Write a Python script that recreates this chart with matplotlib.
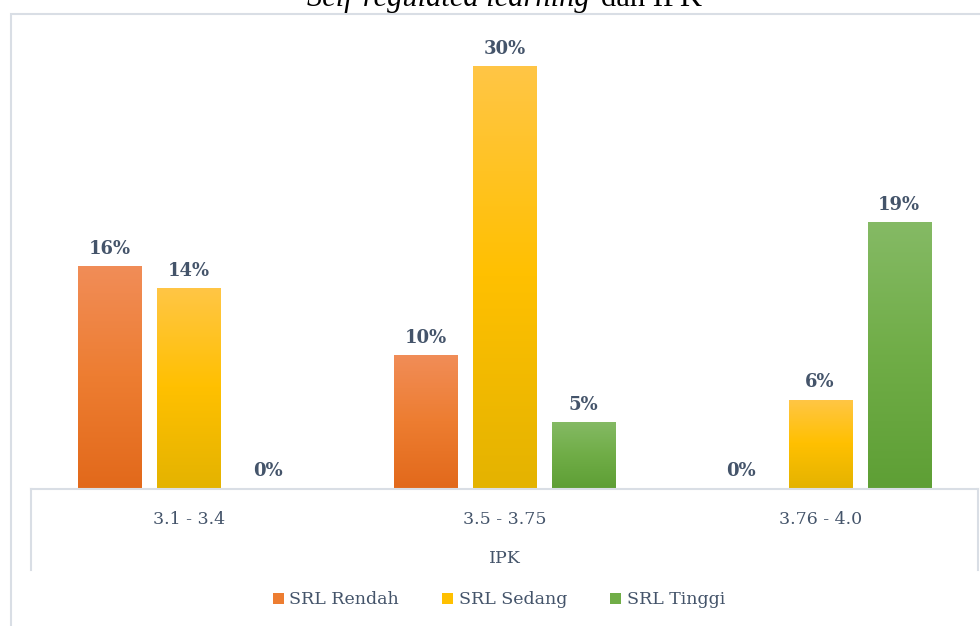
import numpy as np
import matplotlib.pyplot as plt
from matplotlib.colors import LinearSegmentedColormap
from matplotlib.patches import Patch, Rectangle
from matplotlib.lines import Line2D

categories = ["3.1 - 3.4", "3.5 - 3.75", "3.76 - 4.0"]
series_names = ["SRL Rendah", "SRL Sedang", "SRL Tinggi"]
srl_rendah = [15.87, 9.52, 0.0]
srl_sedang = [14.29, 30.16, 6.35]
srl_tinggi = [0.0, 4.76, 19.05]

# bottom, middle, top colour of each gradient fill
grad_colors = [
    ["#E2691B", "#ED7D31", "#F18D58"],
    ["#E4B300", "#FFC000", "#FFC646"],
    ["#5E9F35", "#70AD47", "#85BA65"],
]
text_color = "#44546A"
line_color = "#D9DEE5"

W, H = 980, 626
base_y = 488.5   # pixel row of the category axis
ppu = 14.0       # pixels per percent
ymax = 33.5

fig = plt.figure(figsize=(W / 100, H / 100), dpi=100)
ax = fig.add_axes([31 / W, (H - base_y) / H, 947 / W, ymax * ppu / H])

x = np.arange(len(categories))
width = 0.2
offsets = [-0.25, 0.0, 0.25]
grad = np.linspace(0, 1, 256).reshape(-1, 1)

for vals, off, cols, name in zip([srl_rendah, srl_sedang, srl_tinggi],
                                 offsets, grad_colors, series_names):
    cmap = LinearSegmentedColormap.from_list(name, cols)
    bars = ax.bar(x + off, vals, width, color=cols[1], zorder=2)
    for bar, v in zip(bars, vals):
        if v > 0:
            x0 = bar.get_x()
            im = ax.imshow(grad, extent=[x0, x0 + width, 0, v], origin="lower",
                           cmap=cmap, aspect="auto", zorder=3)
            im.set_clip_path(bar)
        ax.annotate(f"{v:.0f}%", (bar.get_x() + width / 2, v),
                    xytext=(0, 8.8), textcoords="offset points",
                    ha="center", va="baseline", fontsize=13,
                    fontweight="bold", family="DejaVu Serif", color=text_color)

ax.set_xlim(-0.5, len(categories) - 0.5)
ax.set_ylim(0, ymax)
ax.set_xticks([])
ax.set_yticks([])
for s in ["left", "right", "top"]:
    ax.spines[s].set_visible(False)
ax.spines["bottom"].set_color(line_color)
ax.spines["bottom"].set_linewidth(1.5)
ax.spines["bottom"].set_zorder(4)


def ay(py):
    # pixel row -> axes fraction
    return (base_y - py) / (ymax * ppu)


for xe in [0, 1]:
    ax.add_line(Line2D([xe, xe], [0, ay(570)], transform=ax.transAxes,
                       color=line_color, lw=1.5, clip_on=False))

for xi, cat in zip(x, categories):
    ax.text(xi, ay(524), cat, transform=ax.get_xaxis_transform(),
            ha="center", va="baseline", fontsize=12.5, family="DejaVu Serif",
            color=text_color)
ax.text(0.5, ay(563), "IPK", transform=ax.transAxes, ha="center",
        va="baseline", fontsize=12.5, family="DejaVu Serif", color=text_color)

# outer chart frame (right and bottom edges fall outside the picture)
fig.patches.append(Rectangle((10.5 / W, -0.1), 1.2, (H - 14) / H + 0.1,
                             transform=fig.transFigure, fill=False,
                             edgecolor=line_color, lw=1.5))

handles = [Patch(facecolor=c[1]) for c in grad_colors]
fig.legend(handles, series_names, loc="center", bbox_to_anchor=(499 / W, 1 - 600 / H),
           ncol=3, frameon=False, handlelength=0.63, handleheight=0.63,
           handletextpad=0.3, columnspacing=2.5,
           prop={"family": "DejaVu Serif", "size": 12.5}, labelcolor=text_color)

# title sits above the frame and is cut by the top edge, as in the original
fig.text(590 / W, 1 - 6 / H, "Self-regulated learning", ha="right", va="baseline",
         fontsize=22, fontstyle="italic", family="Liberation Serif", color="black")
fig.text(601 / W, 1 - 6 / H, "dan IPK", ha="left", va="baseline",
         fontsize=22, family="Liberation Serif", color="black")

fig.savefig("out.png", dpi=100)
